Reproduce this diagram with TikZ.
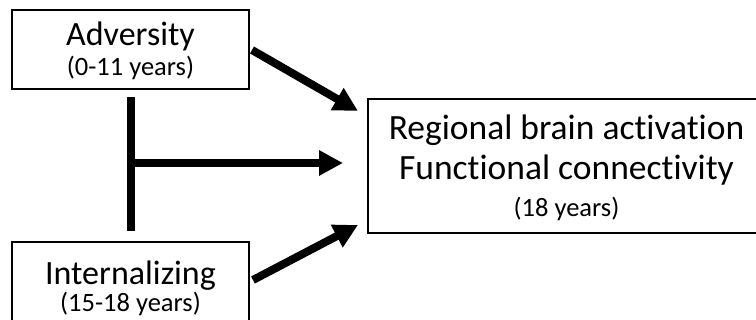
\documentclass[tikz,border=0pt]{standalone}
\usepackage{fontspec}
\setmainfont{Carlito}[Ligatures=NoCommon]
\usetikzlibrary{arrows.meta}
\begin{document}
\begin{tikzpicture}[x=1pt,y=1pt,
  box/.style={draw=black,line width=1.3pt,rectangle,inner sep=0pt},
  big/.style={font=\fontsize{34}{38}\selectfont,anchor=base,inner sep=0pt},
  small/.style={font=\fontsize{26.5}{30}\selectfont,anchor=base,inner sep=0pt},
  mid/.style={font=\fontsize{35.5}{40}\selectfont,anchor=base,inner sep=0pt},
  fat/.style={line width=8pt,-{Triangle[length=24pt,width=24pt]}}]
\useasboundingbox (0,0) rectangle (756,320);
\clip (0,0) rectangle (756,320);
\node[box,minimum width=237pt,minimum height=79pt] (adv) at (130.5,270.5) {};
\node[box,minimum width=237pt,minimum height=90pt] (int) at (130.5,33) {};
\node[box,minimum width=400pt,minimum height=134pt] (out) at (568,154) {};
\node[big] (advt) at (130.5,274.5) {Adversity};
\node[small] (advs) at (130.5,244.5) {(0-11 years)};
\node[big] (intt) at (130.5,35) {Internalizing};
\node[small] (ints) at (130.5,8.5) {(15-18 years)};
\node[mid] (o1) at (566.5,180) {Regional brain activation};
\node[mid] (o2) at (566.5,140) {Functional connectivity};
\node[small] (o3) at (566.5,103) {(18 years)};
\coordinate (vtop) at (131,223);
\coordinate (vbot) at (131,89);
\coordinate (vmid) at (131,157);
\coordinate (hend) at (343,157);
\coordinate (a1s) at (252,270);
\coordinate (a1e) at (358,209);
\coordinate (a2s) at (253,40);
\coordinate (a2e) at (358,95);
\draw[line width=8pt] (vtop) -- (vbot);
\draw[fat] (vmid) -- (hend);
\draw[fat] (a1s) -- (a1e);
\draw[fat] (a2s) -- (a2e);
\end{tikzpicture}
\end{document}
